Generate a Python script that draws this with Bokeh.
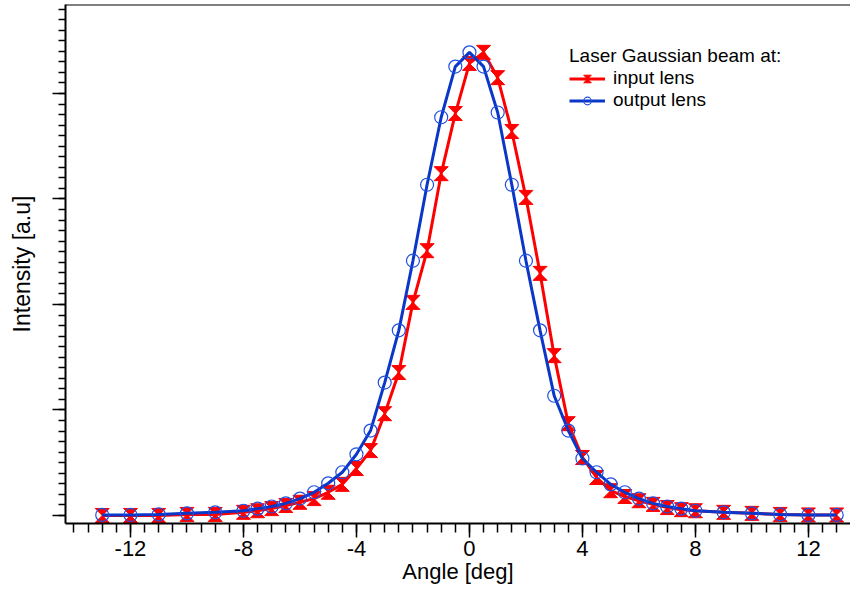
from bokeh.plotting import figure
from bokeh.models import (Range1d, SingleIntervalTicker, Span, Legend, LegendItem,
                          CustomJSTickFormatter, CustomJS)
from bokeh.embed import file_html
from bokeh.resources import INLINE

angle_deg = [-13, -12, -11, -10, -9, -8, -7.5, -7, -6.5, -6, -5.5, -5, -4.5, -4,
             -3.5, -3, -2.5, -2, -1.5, -1, -0.5, 0, 0.5, 1, 1.5, 2, 2.5, 3, 3.5,
             4, 4.5, 5, 5.5, 6, 6.5, 7, 7.5, 8, 9, 10, 11, 12, 13]

input_lens = [0.000, 0.000, 0.000, 0.002, 0.002, 0.006, 0.009, 0.013, 0.019, 0.025,
              0.032, 0.044, 0.059, 0.089, 0.123, 0.193, 0.271, 0.404, 0.502, 0.648,
              0.762, 0.857, 0.878, 0.830, 0.728, 0.603, 0.459, 0.303, 0.174, 0.110,
              0.072, 0.047, 0.036, 0.028, 0.021, 0.015, 0.011, 0.009, 0.006, 0.004,
              0.002, 0.001, 0.001]

output_lens = [0.001, 0.001, 0.002, 0.004, 0.006, 0.009, 0.013, 0.017, 0.023, 0.032,
               0.044, 0.061, 0.082, 0.116, 0.161, 0.252, 0.351, 0.483, 0.627, 0.755,
               0.851, 0.878, 0.851, 0.764, 0.627, 0.483, 0.351, 0.227, 0.161, 0.108,
               0.082, 0.059, 0.044, 0.032, 0.023, 0.017, 0.013, 0.009, 0.006, 0.004,
               0.002, 0.001, 0.001]

legend_title = "Laser Gaussian beam at:"
series_names = ["input lens", "output lens"]
x_label = "Angle [deg]"
y_label = "Intensity [a.u]"

RED = "#ff0000"
BLUE = "#0a37c8"
FONT = "Liberation Sans"

p = figure(width=850, height=590, output_backend="svg", toolbar_location=None,
           x_range=Range1d(-14.30, 13.49), y_range=Range1d(-0.0152, 0.9687),
           min_border_left=65, min_border_right=0, min_border_top=4,
           min_border_bottom=67)
p.grid.visible = False
p.outline_line_color = None
p.background_fill_color = "white"
p.border_fill_color = "white"

# axes
p.xaxis.ticker = SingleIntervalTicker(interval=4, num_minor_ticks=8)
p.xaxis.formatter = CustomJSTickFormatter(code="return tick.toFixed(0)")
p.yaxis.ticker = SingleIntervalTicker(interval=0.2, num_minor_ticks=10)
p.yaxis.formatter = CustomJSTickFormatter(code="return ''")
for ax in (p.xaxis[0], p.yaxis[0]):
    ax.axis_line_width = 2
    ax.axis_line_color = "black"
    ax.major_tick_line_width = 1.5
    ax.minor_tick_line_width = 1.5
    ax.major_tick_line_color = "black"
    ax.minor_tick_line_color = "black"
    ax.major_tick_in = 0
    ax.minor_tick_in = 0
    ax.axis_label_text_font = FONT
    ax.axis_label_text_font_style = "normal"
    ax.axis_label_text_font_size = "22px"
    ax.axis_label_text_color = "black"
    ax.major_label_text_font = FONT
    ax.major_label_text_font_size = "22px"
    ax.major_label_text_color = "black"

p.xaxis.major_tick_out = 14
p.xaxis.minor_tick_out = 9
p.xaxis.major_label_standoff = 3
p.xaxis.axis_label_standoff = 0
p.xaxis.axis_label = x_label

p.yaxis.major_tick_out = 13
p.yaxis.minor_tick_out = 7
p.yaxis.major_label_standoff = 0
p.yaxis.axis_label_standoff = 18
p.yaxis.axis_label_text_font_size = "23px"
p.yaxis.axis_label = y_label

p.add_layout(Span(location=p.y_range.end, dimension="width",
                  line_color="black", line_width=2))

# hourglass marker (two triangles meeting tip to tip) for the input-lens series
hourglass = CustomJS(code="""
const d = cb_data
const ctx = d.ctx, i = d.i, r = d.r, v = d.visuals
ctx.beginPath()
ctx.moveTo(-r, -r)
ctx.lineTo(r, -r)
ctx.lineTo(0, 0)
ctx.lineTo(r, r)
ctx.lineTo(-r, r)
ctx.lineTo(0, 0)
ctx.closePath()
v.fill.apply(ctx, i)
v.line.apply(ctx, i)
""")

r_line = p.line(angle_deg, input_lens, line_color=RED, line_width=3)
r_mark = p.scatter(angle_deg, input_lens, marker="@hourglass",
                   defs={"@hourglass": hourglass}, size=14,
                   fill_color=RED, line_color=RED, line_width=1)

b_line = p.line(angle_deg, output_lens, line_color=BLUE, line_width=3)
b_mark = p.scatter(angle_deg, output_lens, marker="circle", size=13,
                   fill_color=None, line_color="#1f4fe0", line_width=1.2)

legend = Legend(items=[LegendItem(label=series_names[0], renderers=[r_line, r_mark]),
                       LegendItem(label=series_names[1], renderers=[b_line, b_mark])],
                location=(504, 412), title=legend_title)
legend.title_text_font = FONT
legend.title_text_font_size = "19px"
legend.title_text_font_style = "normal"
legend.title_text_color = "black"
legend.title_standoff = 0
legend.label_text_font = FONT
legend.label_text_font_size = "19px"
legend.label_text_color = "black"
legend.border_line_color = None
legend.background_fill_alpha = 0
legend.padding = 0
legend.margin = 0
legend.spacing = 0
legend.glyph_width = 36
legend.glyph_height = 19
legend.label_height = 19
legend.label_standoff = 8
p.add_layout(legend)

open("out.html", "w").write(file_html(p, INLINE))
